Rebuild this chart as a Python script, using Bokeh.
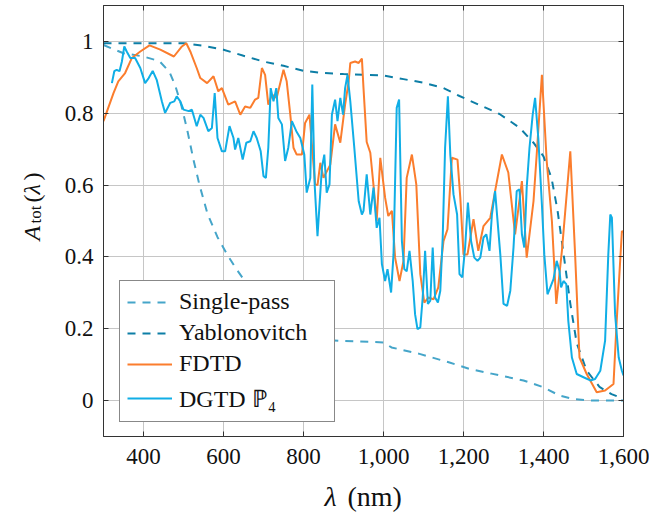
import math
from bokeh.plotting import figure
from bokeh.layouts import column, row
from bokeh.models import (FixedTicker, LinearAxis, Legend, LegendItem, Label, Range1d,
                          CustomLabelingPolicy)
from bokeh.embed import file_html
from bokeh.resources import INLINE

# ---------------- data ----------------
x_ticks = [400, 600, 800, 1000, 1200, 1400, 1600]
x_tick_labels = ["400", "600", "800", "1,000", "1,200", "1,400", "1,600"]
y_ticks = [0, 0.2, 0.4, 0.6, 0.8, 1.0]
y_tick_labels = ["0", "0.2", "0.4", "0.6", "0.8", "1"]

series_names = ["Single-pass", "Yablonovitch", "FDTD", "DGTD \u2119\u2084"]

sp_x = [300, 350, 400, 440, 465, 480, 495, 510, 525, 540, 560, 585, 610, 630, 655,
        700, 750, 800, 840, 900, 1000, 1020, 1090, 1165, 1215, 1270, 1350, 1400,
        1440, 1475, 1520, 1600]
sp_y = [0.99, 0.967, 0.958, 0.945, 0.915, 0.875, 0.82, 0.75, 0.67, 0.60, 0.52, 0.455,
        0.405, 0.37, 0.33, 0.27, 0.22, 0.185, 0.17, 0.166, 0.162, 0.148, 0.13, 0.106,
        0.088, 0.075, 0.056, 0.037, 0.014, 0.004, 0.0, 0.0]

yab_x = [300, 400, 500, 550, 600, 650, 700, 750, 800, 850, 900, 1000, 1050, 1100, 1150,
         1190, 1240, 1290, 1340, 1375, 1400, 1420, 1435, 1450, 1467, 1483, 1508, 1540,
         1570, 1600]
yab_y = [0.995, 0.995, 0.995, 0.988, 0.977, 0.96, 0.944, 0.932, 0.918, 0.912, 0.909,
         0.905, 0.895, 0.885, 0.87, 0.848, 0.823, 0.798, 0.76, 0.718, 0.68, 0.62, 0.53,
         0.41, 0.27, 0.16, 0.083, 0.038, 0.018, 0.005]

fdtd_x = [300, 325, 337, 354, 371, 392, 415, 442, 476, 496, 507, 517, 533, 542, 559,
          575, 587, 596, 612, 629, 642, 654, 667, 679, 687, 696, 704, 712, 721, 733,
          750, 758, 767, 775, 783, 796, 804, 815, 829, 835, 842, 850, 867, 879, 892,
          904, 913, 917, 929, 938, 946, 950, 958, 967, 975, 983, 992, 1004, 1012, 1021,
          1029, 1040, 1050, 1058, 1071, 1082, 1092, 1102, 1112, 1125, 1137, 1150, 1160,
          1171, 1185, 1192, 1200, 1210, 1225, 1237, 1250, 1267, 1279, 1296, 1312, 1329,
          1346, 1358, 1375, 1383, 1396, 1408, 1421, 1432, 1446, 1467, 1479, 1490, 1508,
          1533, 1554, 1575, 1583, 1596, 1600]
fdtd_y = [0.778, 0.856, 0.889, 0.912, 0.954, 0.972, 0.989, 0.977, 0.958, 0.986, 0.995,
          0.972, 0.926, 0.898, 0.884, 0.903, 0.861, 0.87, 0.824, 0.833, 0.796, 0.819,
          0.815, 0.838, 0.843, 0.926, 0.907, 0.824, 0.852, 0.843, 0.921, 0.889, 0.796,
          0.704, 0.685, 0.685, 0.773, 0.796, 0.602, 0.60, 0.662, 0.62, 0.657, 0.769,
          0.718, 0.824, 0.889, 0.94, 0.944, 0.94, 0.952, 0.87, 0.72, 0.69, 0.60, 0.50,
          0.676, 0.565, 0.514, 0.528, 0.398, 0.333, 0.389, 0.62, 0.685, 0.602, 0.352,
          0.273, 0.287, 0.282, 0.315, 0.444, 0.477, 0.676, 0.671, 0.565, 0.407, 0.407,
          0.505, 0.417, 0.486, 0.509, 0.583, 0.685, 0.635, 0.463, 0.611, 0.398, 0.555,
          0.685, 0.907, 0.667, 0.50, 0.269, 0.417, 0.694, 0.407, 0.12, 0.074, 0.023,
          0.028, 0.046, 0.222, 0.472, 0.47]

dgtd_x = [321, 327, 333, 340, 346, 352, 358, 367, 379, 392, 404, 413, 423, 433, 446,
          454, 467, 477, 483, 492, 500, 513, 521, 533, 542, 550, 562, 571, 578, 585,
          596, 604, 615, 625, 629, 637, 648, 657, 667, 675, 683, 693, 700, 706, 712,
          718, 725, 732, 737, 746, 754, 762, 771, 782, 792, 802, 808, 817, 822, 828,
          835, 846, 852, 858, 865, 871, 879, 885, 892, 899, 904, 910, 917, 927, 938,
          946, 950, 958, 967, 975, 983, 990, 996, 1004, 1010, 1019, 1025, 1033, 1039,
          1046, 1052, 1058, 1065, 1073, 1079, 1085, 1092, 1098, 1104, 1111, 1117, 1123,
          1129, 1136, 1142, 1148, 1154, 1161, 1167, 1175, 1184, 1190, 1197, 1204, 1211,
          1219, 1227, 1235, 1242, 1250, 1257, 1265, 1271, 1279, 1292, 1300, 1309, 1317,
          1325, 1333, 1340, 1346, 1352, 1358, 1365, 1373, 1379, 1387, 1396, 1402, 1410,
          1417, 1425, 1433, 1440, 1444, 1450, 1457, 1462, 1471, 1483, 1500, 1517, 1529,
          1542, 1554, 1562, 1567, 1571, 1579, 1588, 1596, 1600]
dgtd_y = [0.884, 0.917, 0.921, 0.917, 0.944, 0.986, 0.972, 0.954, 0.954, 0.926, 0.884,
          0.898, 0.918, 0.893, 0.833, 0.801, 0.829, 0.833, 0.847, 0.833, 0.81, 0.806,
          0.81, 0.764, 0.796, 0.787, 0.75, 0.759, 0.856, 0.731, 0.694, 0.694, 0.764,
          0.731, 0.699, 0.731, 0.671, 0.718, 0.722, 0.75, 0.731, 0.694, 0.625, 0.62,
          0.704, 0.87, 0.833, 0.87, 0.787, 0.769, 0.667, 0.704, 0.778, 0.75, 0.731,
          0.685, 0.579, 0.62, 0.88, 0.60, 0.458, 0.648, 0.685, 0.579, 0.602, 0.796,
          0.838, 0.778, 0.843, 0.796, 0.87, 0.907, 0.833, 0.704, 0.555, 0.518, 0.528,
          0.63, 0.518, 0.593, 0.481, 0.509, 0.38, 0.333, 0.366, 0.301, 0.407, 0.815,
          0.838, 0.444, 0.366, 0.36, 0.417, 0.333, 0.24, 0.199, 0.204, 0.287, 0.417,
          0.269, 0.278, 0.426, 0.287, 0.273, 0.306, 0.454, 0.704, 0.847, 0.685, 0.574,
          0.518, 0.352, 0.343, 0.426, 0.551, 0.444, 0.398, 0.389, 0.398, 0.454, 0.463,
          0.417, 0.518, 0.583, 0.407, 0.269, 0.264, 0.306, 0.426, 0.583, 0.588, 0.463,
          0.426, 0.593, 0.704, 0.796, 0.843, 0.731, 0.546, 0.407, 0.296, 0.315, 0.338,
          0.389, 0.361, 0.315, 0.333, 0.324, 0.222, 0.12, 0.074, 0.065, 0.056, 0.06,
          0.083, 0.167, 0.407, 0.518, 0.509, 0.24, 0.12, 0.083, 0.07]

# ---------------- layout sizes ----------------
SERIF = "Liberation Serif"
AX = "#333333"
TXT = "#111111"
W_YLAB = 56          # strip holding the rotated y title
H_MAIN = 480         # height of the row (y-title strip + chart)
H_XLAB = 40          # strip holding the x title
W_TOTAL = 649

def blank_fig(w, h):
    f = figure(width=w, height=h, output_backend="svg", toolbar_location=None,
               x_range=Range1d(0, 1), y_range=Range1d(0, 1),
               x_axis_type=None, y_axis_type=None,
               min_border=0, min_border_left=0, min_border_right=0,
               min_border_top=0, min_border_bottom=0)
    f.grid.visible = False
    f.outline_line_color = None
    f.background_fill_color = "white"
    f.border_fill_color = "white"
    return f

# ---------------- main chart ----------------
p = figure(width=W_TOTAL - W_YLAB, height=H_MAIN, output_backend="svg",
           toolbar_location=None,
           x_range=Range1d(300, 1600), y_range=Range1d(-0.1, 1.1),
           min_border_left=103 - W_YLAB, min_border_right=W_TOTAL - 623,
           min_border_top=5, min_border_bottom=H_MAIN - 436,
           background_fill_color="white", border_fill_color="white")
p.outline_line_color = AX
p.outline_line_width = 1

xt = FixedTicker(ticks=x_ticks, minor_ticks=[])
yt = FixedTicker(ticks=y_ticks, minor_ticks=[])

for ax in p.xaxis:
    ax.ticker = xt
    ax.major_label_overrides = {t: l for t, l in zip(x_ticks, x_tick_labels)}
for ax in p.yaxis:
    ax.ticker = yt
    ax.major_label_overrides = {t: l for t, l in zip(y_ticks, y_tick_labels)}

for ax in list(p.xaxis) + list(p.yaxis):
    ax.major_tick_in = 5
    ax.major_tick_out = 0
    ax.minor_tick_line_color = None
    ax.major_tick_line_color = AX
    ax.axis_line_color = AX
    ax.major_label_text_font = SERIF
    ax.major_label_text_font_size = "23px"
    ax.major_label_text_color = TXT
p.xaxis.major_label_standoff = 12
p.yaxis.major_label_standoff = 10

# mirrored ticks (top / right), without labels
hide_all = "for (const i of indices) indices.unset(i); return indices"
top = LinearAxis(ticker=xt, major_tick_in=5, major_tick_out=0,
                 major_tick_line_color=AX, axis_line_color=AX,
                 minor_tick_line_color=None, major_label_text_font_size="1px",
                 major_label_standoff=0,
                 major_label_policy=CustomLabelingPolicy(code=hide_all))
right = LinearAxis(ticker=yt, major_tick_in=5, major_tick_out=0,
                   major_tick_line_color=AX, axis_line_color=AX,
                   minor_tick_line_color=None, major_label_text_font_size="1px",
                   major_label_standoff=0,
                   major_label_policy=CustomLabelingPolicy(code=hide_all))
p.add_layout(top, "above")
p.add_layout(right, "right")

p.xgrid.ticker = xt
p.ygrid.ticker = yt
p.xgrid.grid_line_color = "#c6c6c6"
p.ygrid.grid_line_color = "#c6c6c6"

colors = ["#45a5c9", "#0d7ea6", "#fb7d2d", "#10aee6"]

r_sp = p.line(sp_x, sp_y, line_color=colors[0], line_width=2, line_dash="8 7")
r_yab = p.line(yab_x, yab_y, line_color=colors[1], line_width=2, line_dash="8 7")
r_fd = p.line(fdtd_x, fdtd_y, line_color=colors[2], line_width=2)
r_dg = p.line(dgtd_x, dgtd_y, line_color=colors[3], line_width=2)

legend = Legend(items=[LegendItem(label=n, renderers=[r]) for n, r in
                       zip(series_names, [r_sp, r_yab, r_fd, r_dg])],
                location=(16, 14), orientation="vertical",
                border_line_color=TXT, border_line_width=1,
                background_fill_color="white", background_fill_alpha=1.0,
                label_text_font=SERIF, label_text_font_size="24px",
                label_text_color=TXT,
                glyph_width=45, glyph_height=24, label_height=24, label_width=148,
                label_standoff=7, spacing=4, padding=7, margin=0)
p.add_layout(legend)

def lab(fig, text, x, y, size, style="normal", angle=0.0):
    fig.add_layout(Label(x=x, y=y, x_units="screen", y_units="screen", text=text,
                         text_font=SERIF, text_font_size=size, text_font_style=style,
                         text_color=TXT, angle=angle, text_align="left",
                         text_baseline="alphabetic"))

# ---------------- y title strip: A_tot(lambda) ----------------
fy = blank_fig(W_YLAB, H_MAIN)
R = math.pi / 2
DX, DY = -12, -37     # empirical correction of the strip's label placement
lab(fy, "A", 43 + DX, H_MAIN - 247 + DY, "24px", "italic", R)
lab(fy, "tot", 47 + DX, H_MAIN - 230 + DY, "17px", "normal", R)
lab(fy, "(", 43 + DX, H_MAIN - 209 + DY, "24px", "normal", R)
lab(fy, "\u03bb", 43 + DX, H_MAIN - 201 + DY, "24px", "italic", R)
lab(fy, ")", 43 + DX, H_MAIN - 187 + DY, "24px", "normal", R)

# ---------------- x title strip: lambda (nm) ----------------
fx = blank_fig(W_TOTAL, H_XLAB)
lab(fx, "\u03bb", 324, 520 - 505 + 9, "28px", "italic")
lab(fx, "(nm)", 347, 520 - 505 + 9, "28px")

layout = column(row(fy, p, spacing=0), fx, spacing=0)
open("out.html", "w").write(file_html(layout, INLINE))
